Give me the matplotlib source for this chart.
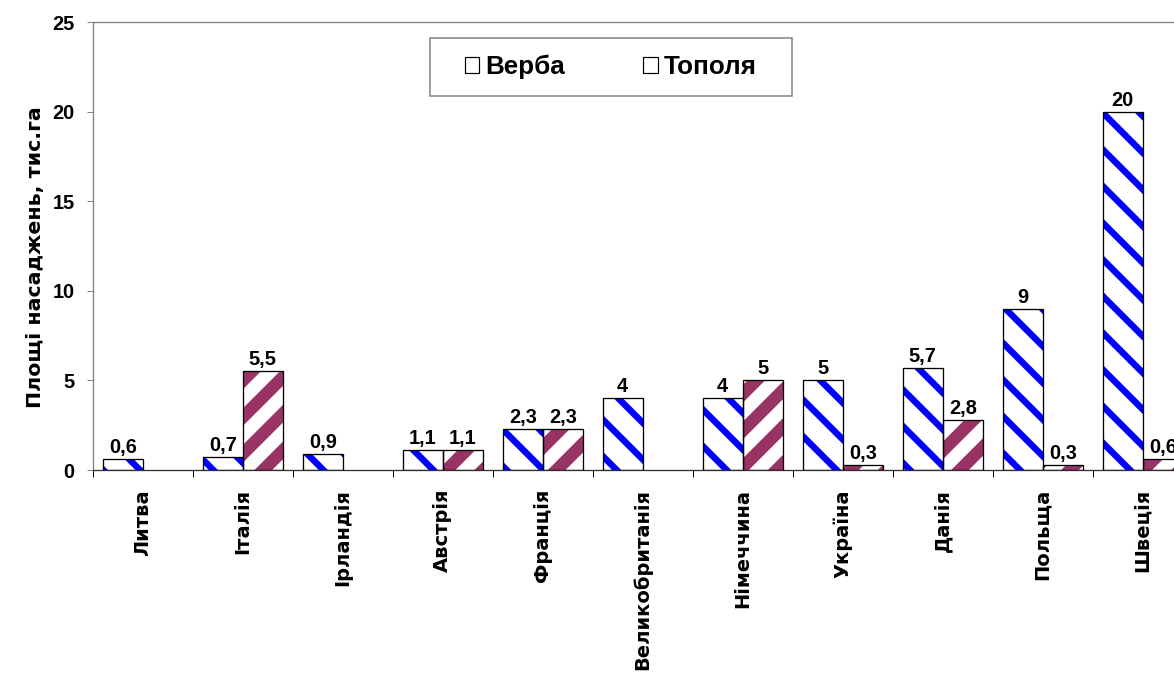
import numpy as np
import matplotlib
matplotlib.use("Agg")
import matplotlib.pyplot as plt
from matplotlib.patches import Patch, Rectangle
from matplotlib import font_manager

# ---- data ----
categories = ["Литва", "Італія", "Ірландія", "Австрія", "Франція", "Великобританія",
              "Німеччина", "Україна", "Данія", "Польща", "Швеція"]
verba = [0.6, 0.7, 0.9, 1.1, 2.3, 4, 4, 5, 5.7, 9, 20]
topola = [None, 5.5, None, 1.1, 2.3, None, 5, 0.3, 2.8, 0.3, 0.6]
yticks = [0, 5, 10, 15, 20, 25]
ylabel = "Площі насаджень, тис.га"
series_names = ["Верба", "Тополя"]

# ---- figure setup ----
DPI = 220
W, H = 1174, 679


def P(px):
    return px * 72.0 / DPI


avail = {f.name for f in font_manager.fontManager.ttflist}
NARROW = 'Liberation Sans Narrow' if 'Liberation Sans Narrow' in avail else None

plt.rcParams['font.family'] = ['Liberation Sans', 'DejaVu Sans']
plt.rcParams['font.weight'] = 'bold'

if NARROW:
    num_font = dict(family=[NARROW, 'Liberation Sans', 'DejaVu Sans'])
    tick_fs, val_fs = P(23), P(22)
else:
    num_font = dict(family=['Liberation Sans', 'DejaVu Sans'])
    tick_fs, val_fs = P(20), P(20)
wide_font = dict(family=['DejaVu Sans', 'Liberation Sans'])

fig = plt.figure(figsize=(W / DPI, H / DPI), dpi=DPI)
fig.patch.set_facecolor('white')
ax = fig.add_axes([92.7 / W, 1 - 470 / H, 1100 / W, 448 / H])

BLUE = '#0000FF'
MAROON = '#993366'

x = np.arange(len(categories))
bw = 0.4


def fmt(v):
    return ('%g' % v).replace('.', ',')


def draw_series(xs, vals, hatch, color, hlw):
    pat = ax.bar(xs, vals, width=bw, facecolor='white', edgecolor=color,
                 linewidth=0, hatch=hatch, zorder=2)
    for p in pat:
        if hasattr(p, 'set_hatch_linewidth'):
            p.set_hatch_linewidth(hlw)
    ax.bar(xs, vals, width=bw, fill=False, edgecolor='black',
           linewidth=P(1.3), zorder=3)
    for xi, v in zip(xs, vals):
        ax.annotate(fmt(v), (xi, v), xytext=(0, P(2)), textcoords='offset points',
                    ha='center', va='bottom', fontsize=val_fs, fontweight='bold',
                    zorder=4, annotation_clip=False, **num_font)


plt.rcParams['hatch.linewidth'] = P(6)
xv = x - bw / 2
draw_series(xv, verba, '\\\\', BLUE, P(6.5))

ti = [i for i, v in enumerate(topola) if v is not None]
xt = x[ti] + bw / 2
vt = [topola[i] for i in ti]
draw_series(xt, vt, '//', MAROON, P(12.5))

# ---- axes ----
ax.set_xlim(-0.5, len(categories) - 0.5)
ax.set_ylim(0, 25)
ax.set_yticks(yticks)
ax.set_yticklabels([str(t) for t in yticks], fontsize=tick_fs, fontweight='bold',
                   **num_font)
ax.tick_params(axis='y', direction='out', length=P(6), width=P(1), color='#808080',
               pad=P(12))

ax.set_xticks(x)
ax.set_xticklabels(categories, rotation=90, fontsize=P(19.5), fontweight='bold',
                   va='top', ha='center', **wide_font)
ax.tick_params(axis='x', which='major', length=0, pad=P(19))
ax.set_xticks(np.arange(len(categories) + 1) - 0.5, minor=True)
ax.tick_params(axis='x', which='minor', direction='out', length=P(7), width=P(1),
               color='black')

for s in ['left', 'top', 'right']:
    ax.spines[s].set_color('#808080')
    ax.spines[s].set_linewidth(P(1.3))
ax.spines['bottom'].set_color('#303030')
ax.spines['bottom'].set_linewidth(P(1.3))

ax.set_ylabel(ylabel, fontsize=P(20.5), fontweight='bold', **wide_font)
ax.yaxis.set_label_coords(-48 / 1100, (470 - 257) / 448)

# ---- legend ----
fig.patches.append(Rectangle((430 / W, 1 - 96 / H), (792 - 430) / W, 58 / H,
                             transform=fig.transFigure, facecolor='white',
                             edgecolor='#808080', linewidth=P(1.5), zorder=5))
handles = [Patch(facecolor='white', edgecolor='black', linewidth=P(1.2)),
           Patch(facecolor='white', edgecolor='black', linewidth=P(1.2))]
leg = fig.legend(handles, series_names, loc='center',
                 bbox_to_anchor=((430 + 792) / 2 / W, 1 - 67 / H),
                 ncol=2, fontsize=P(26), frameon=False,
                 handlelength=0.55, handleheight=0.55, handletextpad=0.25,
                 columnspacing=3.0, borderpad=0.0, borderaxespad=0)
leg.set_zorder(6)
for t in leg.get_texts():
    t.set_fontweight('bold')

fig.savefig('out.png', dpi=DPI)
